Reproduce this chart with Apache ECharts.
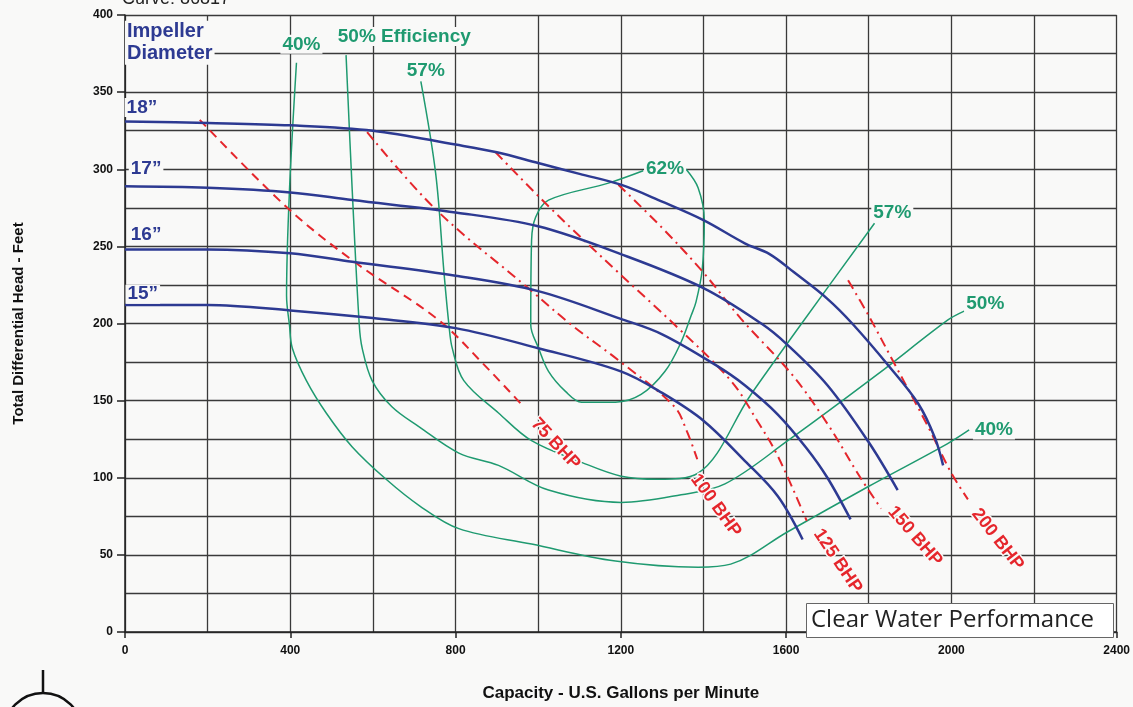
<!DOCTYPE html>
<html><head><meta charset="utf-8">
<script src="https://cdn.jsdelivr.net/npm/echarts@6/dist/echarts.min.js"></script>
<style>html,body{margin:0;padding:0;background:#f9f9f8;}#c{width:1133px;height:707px;}</style>
</head><body><div id="c"></div>
<script>
// ---- tick labels ----
const xTicks = [0, 400, 800, 1200, 1600, 2000, 2400];
const yTicks = [0, 50, 100, 150, 200, 250, 300, 350, 400];

// ---- impeller head curves [gpm, ft] ----
const imp18 = [[0,331],[200,330],[400,328.5],[600,325],[800,316],[900,311],[1000,304],[1100,297],[1200,290],[1300,279],[1400,267],[1500,252],[1560,245],[1620,233],[1700,216],[1760,200],[1850,172],[1920,148],[1960,126],[1980,108]];
const imp17 = [[0,289],[200,288],[400,285],[550,280],[800,272],[1000,263],[1200,245],[1400,223],[1540,200],[1600,187],[1700,160],[1800,123],[1870,92]];
const imp16 = [[0,248],[200,248],[400,245.5],[550,240],[800,231],[1000,221],[1200,203],[1300,193],[1430,173],[1500,160],[1580,141],[1650,119],[1700,100],[1756,73]];
const imp15 = [[0,212],[200,212],[400,208.5],[600,203.5],[800,197],[1000,184],[1200,169],[1300,155],[1400,137],[1500,111],[1580,88],[1640,60]];

// ---- brake horsepower lines ----
const bhp75  = [[181,332],[393,275],[555,240],[760,202],[870,173],[965,146]];
const bhp100 = [[586,324],[752,274],[980,222],[1081,199],[1200,175],[1330,146],[1360,130],[1385,112]];
const bhp125 = [[897,311],[1025,276],[1194,233],[1331,199],[1466,163],[1530,137],[1580,114],[1650,72]];
const bhp150 = [[1194,290],[1300,262],[1400,233],[1491,203],[1614,167],[1700,135],[1780,100],[1830,80]];
const bhp200 = [[1750,228],[1800,205],[1860,175],[1940,135],[2000,103],[2040,86]];

// ---- efficiency contours ----
const eff40 = [[415,369],[398,286],[391,218],[398,199],[405,184],[439,163],[487,142],[550,120],[632,99],[712,82],[808,67],[984,57],[1187,46],[1387,42],[1466,44],[1604,65],[1797,94],[1990,122],[2043,131]];
const eff50 = [[535,374],[550,286],[567,199],[574,184],[598,163],[646,146],[712,133],[808,116],[904,108],[1025,92],[1201,84],[1346,89],[1452,96],[1604,124],[1821,167],[1990,202],[2031,208]];
const eff57 = [[716,357],[752,297],[772,233],[784,199],[792,184],[820,163],[904,142],[984,124],[1105,110],[1201,101],[1290,99],[1387,103],[1515,154],[1635,199],[1814,265]];
const eff62 = [[1254,299],[1170,291],[1025,280],[994,269],[984,254],[982,199],[1001,184],[1025,169],[1066,156],[1105,149],[1187,149],[1249,154],[1307,169],[1346,188],[1370,205],[1382,214],[1397,235],[1402,267],[1387,288],[1358,300]];

// ---- labels [gpm, ft, text] ----
const impLabels = [[104,382,'Impeller\nDiameter'],[41,340,'18\u201d'],[51,300,'17\u201d'],[51,257.6,'16\u201d'],[43,219,'15\u201d']];
const effLabels = [[427,381,'40%'],[676,386,'50% Efficiency'],[728,364,'57%'],[1307,300,'62%'],[1857,272,'57%'],[2082,213,'50%'],[2103,131,'40%']];
const bhpLabels = [[1042,122,'75 BHP'],[1430,82,'100 BHP'],[1725,46,'125 BHP'],[1912,62,'150 BHP'],[2112,60,'200 BHP']];
const bhpAngles = [-47, -54, -56, -49, -52];

const BLUE = '#2d3a92', RED = '#e5262c', GREEN = '#1f9a70', BG = '#f9f9f8';
const FONT = '"Liberation Sans", Arial, sans-serif';

function line(data, color, width, type, z) {
  return { type: 'line', data: data, smooth: 0.35, symbol: 'none', silent: true, z: z,
    lineStyle: { color: color, width: width, type: type } };
}
function labelSeries(list, color, size, extra) {
  return { type: 'scatter', symbolSize: 1, silent: true, z: 20,
    itemStyle: { color: 'rgba(0,0,0,0)', opacity: 1 },
    data: list.map((d, i) => ({ value: [d[0], d[1]], label: Object.assign({
      show: true, position: 'inside', formatter: d[2], color: color, fontSize: size,
      fontWeight: 'bold', fontFamily: FONT, backgroundColor: BG, padding: [0, 2]
    }, extra ? extra(d, i) : {}) })) };
}

const chart = echarts.init(document.getElementById('c'), null, { renderer: 'canvas' });
const gridStyle = { color: '#3a3a3a', width: 1.3 };
chart.setOption({
  backgroundColor: BG,
  animation: false,
  grid: { left: 125, right: 15, top: 15, bottom: 65 },
  xAxis: {
    type: 'value', min: xTicks[0], max: xTicks[xTicks.length - 1], interval: xTicks[1] - xTicks[0],
    name: 'Capacity - U.S. Gallons per Minute', nameLocation: 'middle', nameGap: 53,
    nameTextStyle: { fontFamily: FONT, fontWeight: 'bold', fontSize: 17, color: '#111' },
    axisLine: { lineStyle: { color: '#222', width: 1.5 } },
    axisTick: { show: true, length: 6, lineStyle: { color: '#222', width: 1.5 } },
    axisLabel: { margin: 13, fontFamily: FONT, fontWeight: 'bold', fontSize: 12, color: '#111', formatter: v => String(v) },
    splitLine: { show: true, lineStyle: gridStyle },
    minorTick: { show: false, splitNumber: 2 },
    minorSplitLine: { show: true, lineStyle: gridStyle }
  },
  yAxis: {
    type: 'value', min: yTicks[0], max: yTicks[yTicks.length - 1], interval: yTicks[1] - yTicks[0],
    name: 'Total Differential Head - Feet', nameLocation: 'middle', nameGap: 99, nameRotate: 90,
    nameTextStyle: { fontFamily: FONT, fontWeight: 'bold', fontSize: 15, color: '#111' },
    axisLine: { show: true, lineStyle: { color: '#222', width: 1.5 } },
    axisTick: { show: true, length: 8, lineStyle: { color: '#222', width: 1.5 } },
    axisLabel: { margin: 12, fontFamily: FONT, fontWeight: 'bold', fontSize: 12, color: '#111', formatter: v => String(v) },
    splitLine: { show: true, lineStyle: gridStyle },
    minorTick: { show: false, splitNumber: 2 },
    minorSplitLine: { show: true, lineStyle: gridStyle }
  },
  series: [
    line(eff40, GREEN, 1.5, 'solid', 3),
    line(eff50, GREEN, 1.5, 'solid', 3),
    line(eff57, GREEN, 1.5, 'solid', 3),
    line(eff62, GREEN, 1.5, 'solid', 3),
    line(bhp75, RED, 2, [9, 6], 4),
    line(bhp100, RED, 2, [10, 5, 2, 5], 4),
    line(bhp125, RED, 2, [10, 5, 2, 5], 4),
    line(bhp150, RED, 2, [10, 5, 2, 5], 4),
    line(bhp200, RED, 2, [10, 5, 2, 5], 4),
    line(imp18, BLUE, 2.5, 'solid', 5),
    line(imp17, BLUE, 2.5, 'solid', 5),
    line(imp16, BLUE, 2.5, 'solid', 5),
    line(imp15, BLUE, 2.5, 'solid', 5),
    labelSeries(impLabels, BLUE, 19, (d) => d[2].indexOf('\n') >= 0 ? { lineHeight: 22, align: 'left', offset: [-43, 0], fontSize: 20 } : {}),
    labelSeries(effLabels, GREEN, 19),
    labelSeries(bhpLabels, RED, 18, (d, i) => ({ rotate: bhpAngles[i], backgroundColor: 'transparent', textBorderColor: BG, textBorderWidth: 3 }))
  ],
  graphic: [
    { type: 'text', left: 122, top: -10, z: 100, style: { text: 'Curve: 86817', font: '18px ' + FONT, fill: '#222' } },
    { type: 'rect', left: 806, top: 603, z: 100, shape: { x: 0, y: 0, width: 307, height: 34 }, style: { fill: '#ffffff', stroke: '#666', lineWidth: 1 } },
    { type: 'text', left: 811, top: 603, z: 101, style: { text: 'Clear Water Performance', font: '24px "Open Sans", sans-serif', fill: '#222', lineHeight: 34, height: 34 } },
    { type: 'line', z: 100, shape: { x1: 43, y1: 670, x2: 43, y2: 694 }, style: { stroke: '#111', lineWidth: 2.5 } },
    { type: 'circle', z: 100, shape: { cx: 43, cy: 732, r: 39 }, style: { fill: 'none', stroke: '#111', lineWidth: 2.5 } }
  ]
});
</script></body></html>
